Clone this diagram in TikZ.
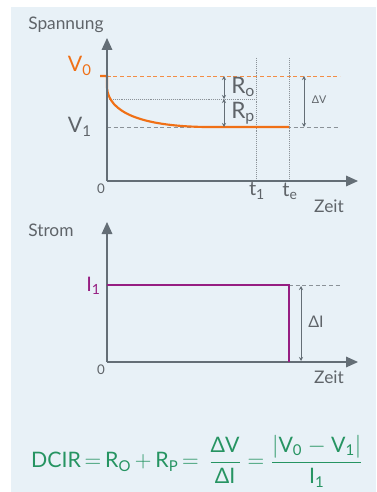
\documentclass[tikz,border=0pt]{standalone}
\usepackage{fontspec}
\setmainfont{Lato}
\usepackage{amsmath}
\usetikzlibrary{arrows.meta}
\definecolor{bgblue}{RGB}{232,241,247}
\definecolor{axgray}{RGB}{100,110,118}
\definecolor{txtgray}{RGB}{95,100,105}
\definecolor{uorange}{RGB}{240,112,22}
\definecolor{ipurple}{RGB}{150,30,130}
\definecolor{fgreen}{RGB}{38,148,98}

\begin{document}
\begin{tikzpicture}[
					x=0.75pt,y=-0.75pt,
					axis/.style={draw=axgray,line width=0.9pt,-{Triangle[length=9pt,width=8pt]}},
					guide/.style={draw=axgray!75,densely dashed,line width=0.45pt},
					tguide/.style={draw=axgray!75,densely dotted,line width=0.45pt},
					span/.style={draw=axgray,line width=0.7pt,{Stealth[length=3pt,width=3pt]}-{Stealth[length=3pt,width=3pt]}},
					lbl/.style={text=txtgray,inner sep=0pt},
					curve/.style={line width=1.6pt}
					]
					\useasboundingbox (0,0) rectangle (376,492);
					\fill[bgblue] (11,7) rectangle (376,492);
					% Spannung
					\coordinate (o1) at (107,181);
					\coordinate (y1) at (107,38);
					\coordinate (x1) at (358,181);
					\coordinate (v0s) at (100,76);
					\coordinate (v0e) at (340,76);
					\coordinate (v1s) at (107,127);
					\coordinate (v1e) at (340,127);
					\coordinate (ms) at (107,99);
					\coordinate (me) at (256,99);
					\coordinate (te) at (289,127);
					\foreach \n/\x in {t1/256,tE/289}{
						\coordinate (\n top) at (\x,58);
						\coordinate (\n bot) at (\x,181);
					}
					\draw[guide,draw=uorange!80] (v0s) -- (v0e);
					\draw[guide] (v1s) -- (v1e);
					\draw[tguide] (ms) -- (me);
					\foreach \n in {t1,tE}{
						\draw[tguide] (\n top) -- (\n bot);
					}
					\draw[curve,uorange] (v0s) -- (107,76) -- (107,88)
						.. controls (109,112) and (140,126) .. (205,127) -- (te);
					\draw[axis] (o1) -- (y1);
					\draw[axis] (o1) -- (x1);
					\coordinate (ro0) at (224,76);
					\coordinate (ro1) at (224,99);
					\coordinate (rp1) at (224,127);
					\coordinate (dv0) at (304,76);
					\coordinate (dv1) at (304,127);
					\draw[span] (ro0) -- (ro1);
					\draw[span] (ro1) -- (rp1);
					\draw[span] (dv0) -- (dv1);
					\node[lbl,anchor=west,font=\fontsize{17}{17}\selectfont] (ro) at (231,87) {R\textsubscript{o}};
					\node[lbl,anchor=west,font=\fontsize{17}{17}\selectfont] (rp) at (231,113) {R\textsubscript{p}};
					\node[lbl,font=\fontsize{8}{8}\selectfont] (dv) at (319,100) {ΔV};
					\node[lbl,anchor=west,font=\fontsize{13}{13}\selectfont] (spannung) at (28,25) {Spannung};
					\node[lbl,anchor=east,text=uorange,font=\fontsize{16}{16}\selectfont] (v0) at (92,66) {V\textsubscript{0}};
					\node[lbl,anchor=east,font=\fontsize{16}{16}\selectfont] (v1) at (92,127) {V\textsubscript{1}};
					\node[lbl,font=\fontsize{10}{10}\selectfont] (null1) at (101,189) {0};
					\node[lbl,font=\fontsize{15}{15}\selectfont] (t1) at (257,191) {t\textsubscript{1}};
					\node[lbl,font=\fontsize{15}{15}\selectfont] (tEl) at (290,191) {t\textsubscript{e}};
					\node[lbl,font=\fontsize{13}{13}\selectfont] (zeit1) at (329,206) {Zeit};
					% Strom
					\coordinate (o2) at (107,362);
					\coordinate (y2) at (107,222);
					\coordinate (x2) at (358,362);
					\coordinate (i1s) at (107,285);
					\coordinate (i1e) at (289,285);
					\coordinate (i0e) at (289,362);
					\coordinate (gde) at (340,285);
					\coordinate (di0) at (301,286);
					\coordinate (di1) at (301,361);
					\draw[guide] (i1e) -- (gde);
					\draw[axis] (o2) -- (y2);
					\draw[axis] (o2) -- (x2);
					\draw[curve,ipurple] (i1s) -- (i1e) -- (i0e);
					\draw[span] (di0) -- (di1);
					\node[lbl,anchor=west,font=\fontsize{13}{13}\selectfont] (strom) at (28,230) {Strom};
					\node[lbl,anchor=east,text=ipurple,font=\fontsize{15}{15}\selectfont] (i1) at (101,286) {I\textsubscript{1}};
					\node[lbl,font=\fontsize{12}{12}\selectfont] (dil) at (316,322) {ΔI};
					\node[lbl,font=\fontsize{10}{10}\selectfont] (null2) at (101,370) {0};
					\node[lbl,font=\fontsize{13}{13}\selectfont] (zeit2) at (329,377) {Zeit};
					% DCIR
					\node[inner sep=0pt,text=fgreen,font=\fontsize{16}{16}\selectfont] (dcir) at (197,461)
						{DCIR$\,=\,$R\textsubscript{O}$\,+\,$R\textsubscript{P}$\,=\,\dfrac{\text{ΔV}}{\text{ΔI}}=\dfrac{\left|\text{V\textsubscript{0} $-$ V\textsubscript{1}}\right|}{\text{I\textsubscript{1}}}$};
				\end{tikzpicture}
\end{document}
